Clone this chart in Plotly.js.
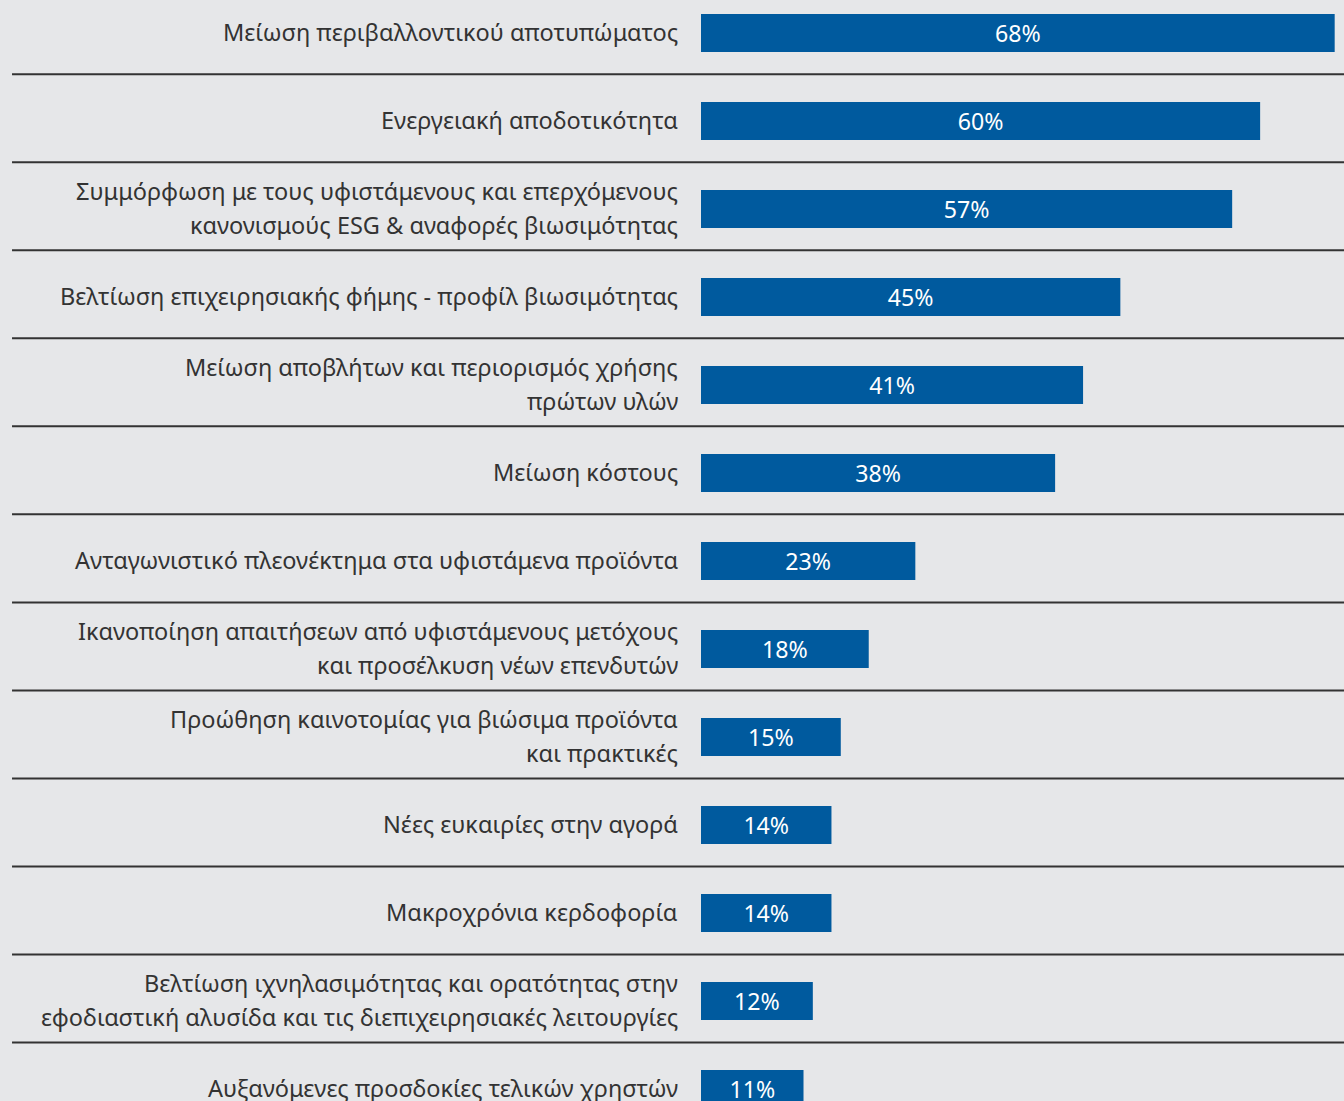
<!DOCTYPE html>
<html>
<head>
<meta charset="utf-8">
<script src="https://cdn.plot.ly/plotly-3.0.1.min.js"></script>
<style>html,body{margin:0;padding:0;background:#e6e7e9;}#chart{width:1344px;height:1101px;}</style>
</head>
<body>
<div id="chart"></div>
<script>
const categories = [
  "Μείωση περιβαλλοντικού αποτυπώματος",
  "Ενεργειακή αποδοτικότητα",
  "Συμμόρφωση με τους υφιστάμενους και επερχόμενους<br>κανονισμούς ESG & αναφορές βιωσιμότητας",
  "Βελτίωση επιχειρησιακής φήμης - προφίλ βιωσιμότητας",
  "Μείωση αποβλήτων και περιορισμός χρήσης<br>πρώτων υλών",
  "Μείωση κόστους",
  "Ανταγωνιστικό πλεονέκτημα στα υφιστάμενα προϊόντα",
  "Ικανοποίηση απαιτήσεων από υφιστάμενους μετόχους<br>και προσέλκυση νέων επενδυτών",
  "Προώθηση καινοτομίας για βιώσιμα προϊόντα<br>και πρακτικές",
  "Νέες ευκαιρίες στην αγορά",
  "Μακροχρόνια κερδοφορία",
  "Βελτίωση ιχνηλασιμότητας και ορατότητας στην<br>εφοδιαστική αλυσίδα και τις διεπιχειρησιακές λειτουργίες",
  "Αυξανόμενες προσδοκίες τελικών χρηστών"
];
const values = [68, 60, 57, 45, 41, 38, 23, 18, 15, 14, 14, 12, 11];
const valueLabels = values.map(v => v + "%");

const FONT = "Noto Sans, sans-serif";
const idx = categories.map((c, i) => i);

const shapes = [];
for (let i = 0; i < categories.length - 1; i++) {
  shapes.push({
    type: "line", xref: "paper", yref: "y",
    x0: -1.0715, x1: 1, y0: i + 0.47, y1: i + 0.47,
    line: {color: "#333333", width: 2}
  });
}
const annotations = [];
categories.forEach((c, i) => {
  const lines = c.split("<br>");
  lines.forEach((ln, j) => {
    annotations.push({
      xref: "paper", yref: "y", x: -0.0355, y: i, xshift: 2,
      yshift: ((lines.length - 1) / 2 - j) * 34 + 1,
      text: ln, showarrow: false, xanchor: "right", yanchor: "middle", align: "right",
      font: {family: FONT, size: 23.5, color: "#333333"}
    });
  });
});

const trace = {
  type: "bar", orientation: "h",
  x: values, y: idx,
  text: valueLabels, textposition: "inside", insidetextanchor: "middle",
  textfont: {family: FONT, size: 24, color: "#ffffff"},
  marker: {color: "#005a9e", line: {width: 0}},
  width: 0.43, hoverinfo: "skip", cliponaxis: false
};

const layout = {
  width: 1344, height: 1101,
  margin: {l: 701, r: 0, t: 0, b: 0, pad: 0},
  paper_bgcolor: "#e6e7e9", plot_bgcolor: "#e6e7e9",
  showlegend: false,
  xaxis: {range: [0, 69], visible: false, fixedrange: true},
  yaxis: {range: [12.136, -0.375], visible: false, fixedrange: true},
  shapes: shapes, annotations: annotations,
  uniformtext: {mode: false}
};
Plotly.newPlot("chart", [trace], layout, {displayModeBar: false, staticPlot: true});
</script>
</body>
</html>
